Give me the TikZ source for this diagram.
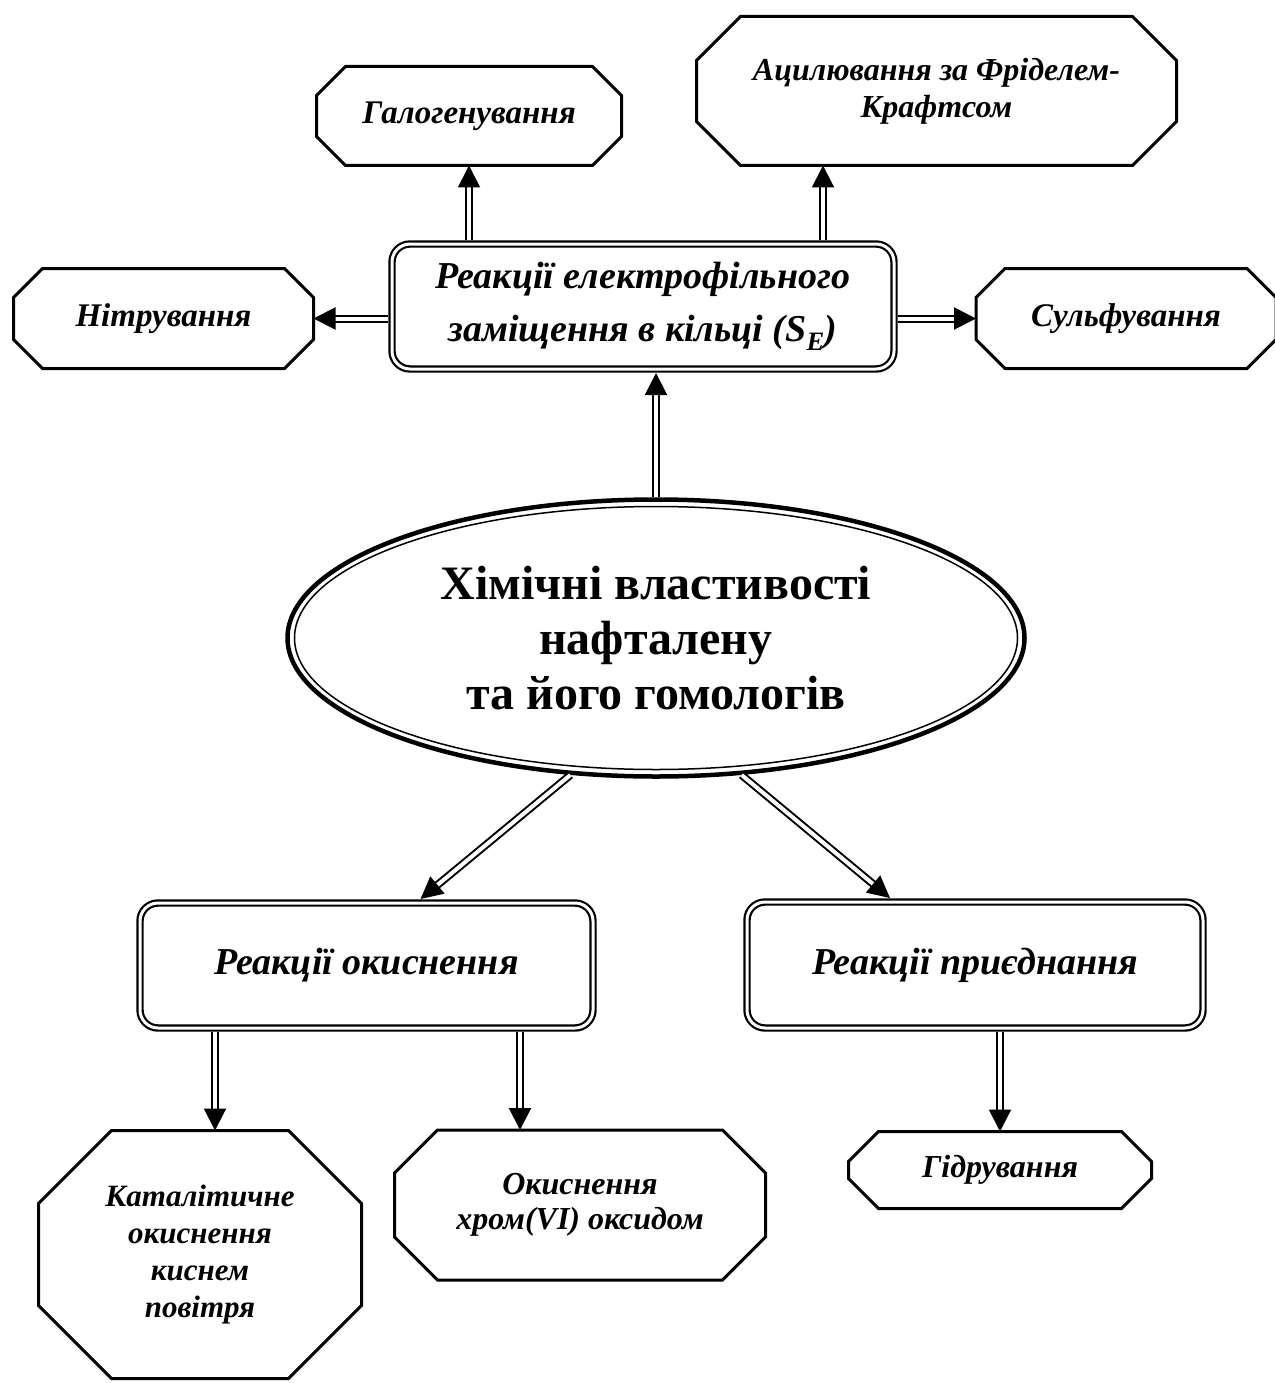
\documentclass[tikz,border=0pt]{standalone}
\usepackage{fontspec}
\setmainfont{Liberation Serif}
\usetikzlibrary{arrows.meta,shapes.geometric}

\begin{document}
\begin{tikzpicture}[
x=1pt, y=-1pt,
octbox/.style={rectangle, inner sep=0pt, outer sep=0pt, align=center},
dblbox/.style={draw, double, line width=2.2pt, double distance=3pt, rounded corners=18pt, outer sep=4pt, align=center, font=\bfseries\itshape\fontsize{38}{53}\selectfont},
oval/.style={ellipse, draw, inner sep=0pt},
dblarrow/.style={double, line width=2pt, double distance=4pt, -{Triangle[length=22pt,width=22pt]}}
]
\useasboundingbox (0,0) rectangle (1274,1383);
\fill[white] (0,0) rectangle (1274,1383);

% centre
\node[oval, line width=4.5pt, minimum width=737pt, minimum height=277pt, align=center, font=\bfseries\fontsize{48}{55}\selectfont] (chem) at (656,638) {Хімічні властивості\\нафталену\\та його гомологів};
\node[oval, line width=1.5pt, minimum width=723pt, minimum height=263pt] (chemin) at (chem.center) {};

% electrophilic substitution
\node[dblbox, minimum width=502pt, minimum height=125pt] (cent) at (643,306.5) {Реакції електрофільного\\заміщення в кільці (S\textsubscript{E})};
\node[octbox, minimum width=305pt, minimum height=99pt, font=\bfseries\itshape\fontsize{33}{40}\selectfont] (halo) at (469,116) {Галогенування};
\node[octbox, minimum width=480pt, minimum height=149pt, font=\bfseries\itshape\fontsize{32}{37}\selectfont] (acyl) at (936.5,91) {Ацилювання за Фріделем-\\Крафтсом};
\node[octbox, minimum width=300pt, minimum height=100pt, font=\bfseries\itshape\fontsize{33}{40}\selectfont] (nitr) at (163.5,318.5) {Нітрування};
\node[octbox, minimum width=300pt, minimum height=100pt, font=\bfseries\itshape\fontsize{33}{40}\selectfont] (sulf) at (1126,318.5) {Сульфування};

% oxidation and addition
\node[dblbox, minimum width=453pt, minimum height=125pt] (okys) at (366.5,965.5) {Реакції окиснення};
\node[dblbox, minimum width=456pt, minimum height=126pt] (pryd) at (975,965) {Реакції приєднання};
\node[octbox, minimum width=323pt, minimum height=248pt, font=\bfseries\itshape\fontsize{31}{37}\selectfont] (katal) at (200,1254.5) {Каталітичне\\окиснення\\киснем\\повітря};
\node[octbox, minimum width=371pt, minimum height=150pt, font=\bfseries\itshape\fontsize{32}{35}\selectfont] (khrom) at (580,1205) {Окиснення\\хром(VI) оксидом};
\node[octbox, minimum width=303pt, minimum height=77pt, font=\bfseries\itshape\fontsize{32}{36}\selectfont] (gidr) at (1000,1170) {Гідрування};

% octagon outlines, name/chamfer
\foreach \n/\c in {halo/29,acyl/44,nitr/29,sulf/29,katal/73,khrom/43,gidr/30}
  \draw[line width=3pt] ([xshift=\c pt]\n.north west) -- ([xshift=-\c pt]\n.north east) -- ([yshift=-\c pt]\n.north east) -- ([yshift=\c pt]\n.south east) -- ([xshift=-\c pt]\n.south east) -- ([xshift=\c pt]\n.south west) -- ([yshift=\c pt]\n.south west) -- ([yshift=-\c pt]\n.north west) -- cycle;

\draw[dblarrow] (chem.north) -- (chem.north |- cent.south);
\draw[dblarrow] (halo.south |- cent.north) -- (halo.south);
\draw[dblarrow] (cent.north -| 823,0) -- (acyl.south -| 823,0);
\draw[dblarrow] (cent.west |- nitr.east) -- (nitr.east);
\draw[dblarrow] (cent.east |- sulf.west) -- (sulf.west);
\draw[dblarrow] (chem.238) -- ([xshift=54pt]okys.north);
\draw[dblarrow] (chem.302) -- ([xshift=-85pt]pryd.north);
\draw[dblarrow] (okys.south -| 215,0) -- (katal.north -| 215,0);
\draw[dblarrow] (okys.south -| 520,0) -- (khrom.north -| 520,0);
\draw[dblarrow] (pryd.south -| gidr.north) -- (gidr.north);
\end{tikzpicture}
\end{document}
